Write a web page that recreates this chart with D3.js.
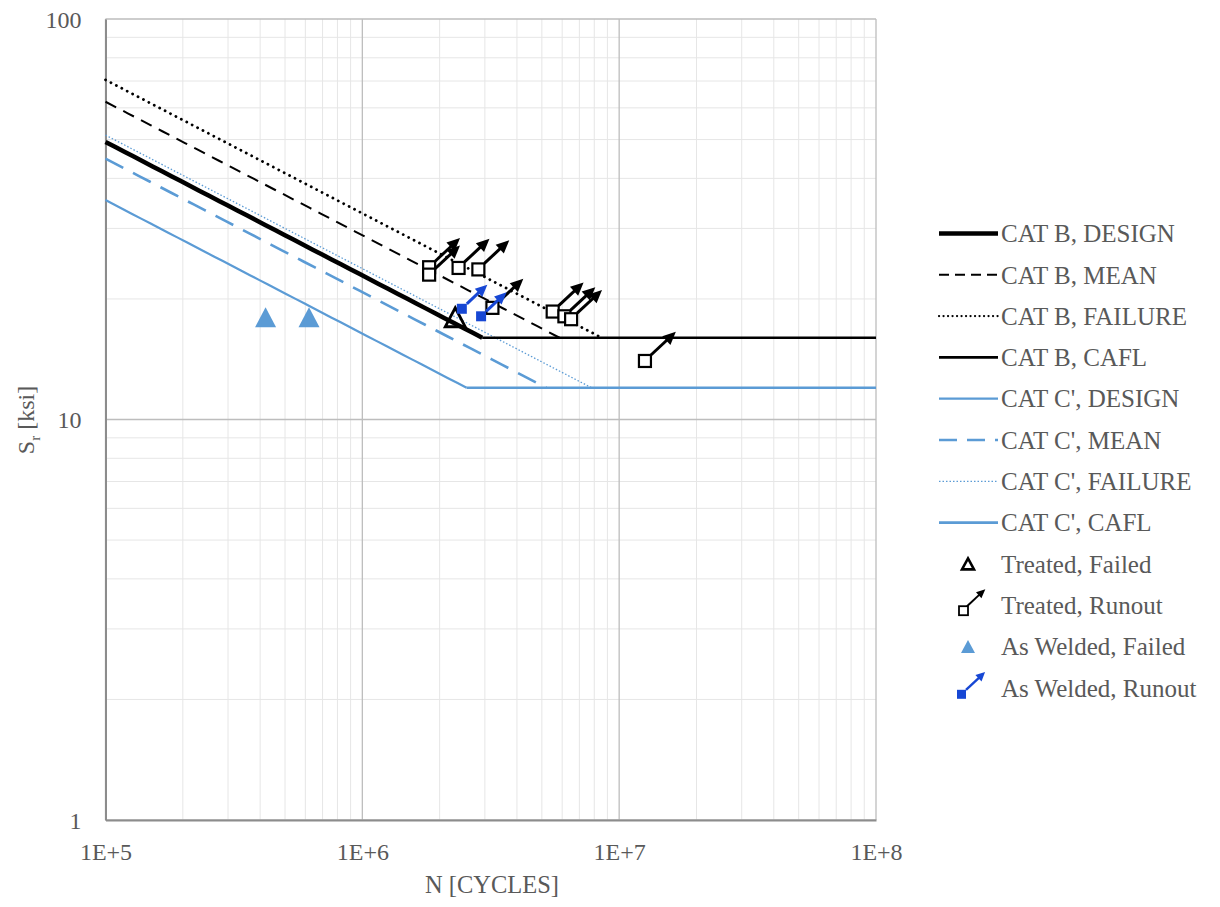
<!DOCTYPE html>
<html>
<head>
<meta charset="utf-8">
<script src="https://cdn.jsdelivr.net/npm/d3@7/dist/d3.min.js"></script>
<style>
  html, body { margin: 0; padding: 0; background: #fff; }
  svg { display: block; }
  text { font-family: "Liberation Serif", "Times New Roman", serif; fill: #595959; }
</style>
</head>
<body>
<svg id="chart" width="1220" height="907"></svg>
<script>
// ---------------- DATA ----------------
const xDomain = [1e5, 1e8];
const yDomain = [1, 100];
const xTickValues = [1e5, 1e6, 1e7, 1e8];
const xTickLabels = ["1E+5", "1E+6", "1E+7", "1E+8"];
const yTickValues = [1, 10, 100];
const yTickLabels = ["1", "10", "100"];

// S-N curves: constant A (ksi^3), slope 3, cut-off at CAFL
const catB_A_design = 120e8;
const catB_A_mean = 2.4e10;
const catB_A_failure = 3.5e10;
const catB_CAFL = 16;
const catC_A_design = 44e8;
const catC_A_mean = 9.0e9;
const catC_A_failure = 1.35e10;
const catC_CAFL = 12;

// Test data
const treatedFailedN = [2.30e6];
const treatedFailedS = [18.0];
const treatedRunoutN = [1.82e6, 1.82e6, 2.37e6, 2.83e6, 3.21e6, 5.51e6, 6.12e6, 6.50e6, 1.26e7];
const treatedRunoutS = [24.0, 23.0, 23.9, 23.7, 19.0, 18.6, 18.1, 17.8, 14.0];
const weldedFailedN = [4.2e5, 6.2e5];
const weldedFailedS = [18.0, 18.0];
const weldedRunoutN = [2.44e6, 2.90e6];
const weldedRunoutS = [18.9, 18.1];

const legendLabels = [
  "CAT B, DESIGN", "CAT B, MEAN", "CAT B, FAILURE", "CAT B, CAFL",
  "CAT C', DESIGN", "CAT C', MEAN", "CAT C', FAILURE", "CAT C', CAFL",
  "Treated, Failed", "Treated, Runout", "As Welded, Failed", "As Welded, Runout"
];

// ---------------- LAYOUT ----------------
const svg = d3.select("#chart");
const L = 105.5, R = 876, T = 19, B = 820;
const x = d3.scaleLog().domain(xDomain).range([L, R]);
const y = d3.scaleLog().domain(yDomain).range([B, T]);

const BLUE = "#5b9bd5";
const DBLUE = "#1747d4";

// minor grid
const minorX = [];
for (let e = 5; e < 8; e++) for (let k = 2; k <= 9; k++) minorX.push(k * Math.pow(10, e));
const minorY = [];
for (let e = 0; e < 2; e++) for (let k = 2; k <= 9; k++) minorY.push(k * Math.pow(10, e));

const grid = svg.append("g");
grid.selectAll("line.mx").data(minorX).join("line")
  .attr("x1", d => x(d)).attr("x2", d => x(d)).attr("y1", T).attr("y2", B)
  .attr("stroke", "#e6e6e6").attr("stroke-width", 1);
grid.selectAll("line.my").data(minorY).join("line")
  .attr("y1", d => y(d)).attr("y2", d => y(d)).attr("x1", L).attr("x2", R)
  .attr("stroke", "#e6e6e6").attr("stroke-width", 1);
grid.selectAll("line.Mx").data(xTickValues).join("line")
  .attr("x1", d => x(d)).attr("x2", d => x(d)).attr("y1", T).attr("y2", B)
  .attr("stroke", "#bdbdbd").attr("stroke-width", 1.3);
grid.selectAll("line.My").data(yTickValues).join("line")
  .attr("y1", d => y(d)).attr("y2", d => y(d)).attr("x1", L).attr("x2", R)
  .attr("stroke", "#bdbdbd").attr("stroke-width", 1.3);

// axes
const xAxis = d3.axisBottom(x).tickValues(xTickValues)
  .tickFormat((d, i) => xTickLabels[i]).tickSize(0).tickPadding(0);
const gx = svg.append("g").attr("transform", `translate(0,${B})`).call(xAxis);
gx.select(".domain").attr("stroke", "#8c8c8c").attr("stroke-width", 2);
gx.selectAll("text").attr("font-size", 24).attr("y", 40).attr("dy", 0)
  .style("font-family", "'Liberation Serif', serif").attr("fill", "#595959");

const yAxis = d3.axisLeft(y).tickValues(yTickValues)
  .tickFormat((d, i) => yTickLabels[i]).tickSize(0).tickPadding(0);
const gy = svg.append("g").attr("transform", `translate(${L},0)`).call(yAxis);
gy.select(".domain").attr("stroke", "#8c8c8c").attr("stroke-width", 2);
gy.selectAll("text").attr("font-size", 24).attr("x", -24).attr("dy", "0.35em")
  .style("font-family", "'Liberation Serif', serif").attr("fill", "#595959");

// axis titles
svg.append("text").attr("x", 492).attr("y", 893).attr("text-anchor", "middle")
  .attr("font-size", 24.5).text("N [CYCLES]");
const yt = svg.append("text").attr("transform", "translate(34,420) rotate(-90)")
  .attr("text-anchor", "middle").attr("font-size", 24);
yt.append("tspan").text("S");
yt.append("tspan").attr("font-size", 15).attr("dy", 6).text("r");
yt.append("tspan").attr("dy", -6).text(" [ksi]");

// ---------------- CURVES ----------------
function sloped(A, cafl) {
  const nEnd = A / Math.pow(cafl, 3);
  const pts = [];
  const steps = 40;
  for (let i = 0; i <= steps; i++) {
    const ln = Math.log10(xDomain[0]) + (Math.log10(nEnd) - Math.log10(xDomain[0])) * i / steps;
    const n = Math.pow(10, ln);
    pts.push([n, Math.cbrt(A / n)]);
  }
  return pts;
}
const line = d3.line().x(d => x(d[0])).y(d => y(d[1]));
const plot = svg.append("g");

const curves = [
  { pts: sloped(catC_A_design, catC_CAFL), stroke: BLUE, w: 2.2, dash: null },
  { pts: sloped(catC_A_mean, catC_CAFL), stroke: BLUE, w: 2.6, dash: "20,11" },
  { pts: sloped(catC_A_failure, catC_CAFL), stroke: BLUE, w: 1.3, dash: "1.5,2" },
  { pts: [[catC_A_design / Math.pow(catC_CAFL, 3), catC_CAFL], [xDomain[1], catC_CAFL]], stroke: BLUE, w: 2.6, dash: null },
  { pts: sloped(catB_A_mean, catB_CAFL), stroke: "#000", w: 2, dash: "12,8" },
  { pts: sloped(catB_A_failure, catB_CAFL), stroke: "#000", w: 2.8, dash: "0.1,6", cap: "round" },
  { pts: [[catB_A_design / Math.pow(catB_CAFL, 3), catB_CAFL], [xDomain[1], catB_CAFL]], stroke: "#000", w: 2.6, dash: null },
  { pts: sloped(catB_A_design, catB_CAFL), stroke: "#000", w: 4.5, dash: null }
];
curves.forEach(c => {
  plot.append("path").attr("d", line(c.pts)).attr("fill", "none")
    .attr("stroke", c.stroke).attr("stroke-width", c.w)
    .attr("stroke-dasharray", c.dash).attr("stroke-linecap", c.cap || "butt");
});

// ---------------- MARKERS ----------------
function triPath(cx, cy, w, h) {
  return `M${cx},${cy - h / 2}L${cx + w / 2},${cy + h / 2}L${cx - w / 2},${cy + h / 2}Z`;
}
function arrow(g, x0, y0, len, color, lw, headL, headW) {
  const ang = Math.atan2(-0.93, 1);
  const ux = Math.cos(ang), uy = Math.sin(ang);
  const x1 = x0 + ux * len, y1 = y0 + uy * len;
  const bx = x1 - ux * headL, by = y1 - uy * headL;
  const px = -uy, py = ux;
  g.append("line").attr("x1", x0).attr("y1", y0).attr("x2", bx + ux).attr("y2", by + uy)
    .attr("stroke", color).attr("stroke-width", lw);
  g.append("path").attr("d", `M${x1},${y1}L${bx + px * headW / 2},${by + py * headW / 2}L${bx - px * headW / 2},${by - py * headW / 2}Z`)
    .attr("fill", color);
}

const mk = svg.append("g");
// As welded failed
weldedFailedN.forEach((n, i) => {
  mk.append("path").attr("d", triPath(x(n), y(weldedFailedS[i]), 21, 20)).attr("fill", BLUE);
});
// Treated failed
treatedFailedN.forEach((n, i) => {
  mk.append("path").attr("d", triPath(x(n), y(treatedFailedS[i]), 20, 19))
    .attr("fill", "none").attr("stroke", "#000").attr("stroke-width", 2.8).attr("stroke-linejoin", "miter");
});
// Treated runout
treatedRunoutN.forEach((n, i) => {
  const cx = x(n), cy = y(treatedRunoutS[i]), h = 6;
  arrow(mk, cx + h, cy - h, 34, "#000", 3, 13, 12);
  mk.append("rect").attr("x", cx - h).attr("y", cy - h).attr("width", 2 * h).attr("height", 2 * h)
    .attr("fill", "#fff").attr("stroke", "#000").attr("stroke-width", 2.2);
});
// As welded runout
weldedRunoutN.forEach((n, i) => {
  const cx = x(n), cy = y(weldedRunoutS[i]), h = 5;
  arrow(mk, cx + h, cy - h, 28, DBLUE, 3, 12, 11);
  mk.append("rect").attr("x", cx - h).attr("y", cy - h).attr("width", 2 * h).attr("height", 2 * h)
    .attr("fill", DBLUE);
});

// ---------------- LEGEND ----------------
const legY0 = 233.5, legDy = 41.3;
const lg = svg.append("g");
const legLineStyles = [
  { stroke: "#000", w: 4.5, dash: null },
  { stroke: "#000", w: 2, dash: "10,6" },
  { stroke: "#000", w: 2.2, dash: "0.1,4.4", cap: "round" },
  { stroke: "#000", w: 2.6, dash: null },
  { stroke: BLUE, w: 2.2, dash: null },
  { stroke: BLUE, w: 2.6, dash: "18,10" },
  { stroke: BLUE, w: 1.3, dash: "1.5,2" },
  { stroke: BLUE, w: 2.6, dash: null }
];
legendLabels.forEach((lab, i) => {
  const ly = legY0 + i * legDy;
  if (i < 8) {
    const s = legLineStyles[i];
    lg.append("line").attr("x1", 939).attr("x2", 998).attr("y1", ly).attr("y2", ly)
      .attr("stroke", s.stroke).attr("stroke-width", s.w).attr("stroke-dasharray", s.dash)
      .attr("stroke-linecap", s.cap || "butt");
  } else if (i === 8) {
    lg.append("path").attr("d", triPath(968, ly, 12, 11)).attr("fill", "none")
      .attr("stroke", "#000").attr("stroke-width", 2.6);
  } else if (i === 9) {
    arrow(lg, 967, ly + 1, 25, "#000", 2, 9, 8);
    lg.append("rect").attr("x", 959).attr("y", ly + 1).attr("width", 9).attr("height", 9)
      .attr("fill", "#fff").attr("stroke", "#000").attr("stroke-width", 1.8);
  } else if (i === 10) {
    lg.append("path").attr("d", triPath(968, ly, 14, 13)).attr("fill", BLUE);
  } else {
    arrow(lg, 966, ly + 2, 26, DBLUE, 2.4, 9, 9);
    lg.append("rect").attr("x", 957).attr("y", ly + 2).attr("width", 9).attr("height", 9).attr("fill", DBLUE);
  }
  lg.append("text").attr("x", 1001).attr("y", ly).attr("dy", "0.35em")
    .attr("font-size", 25).text(lab);
});
</script>
</body>
</html>
